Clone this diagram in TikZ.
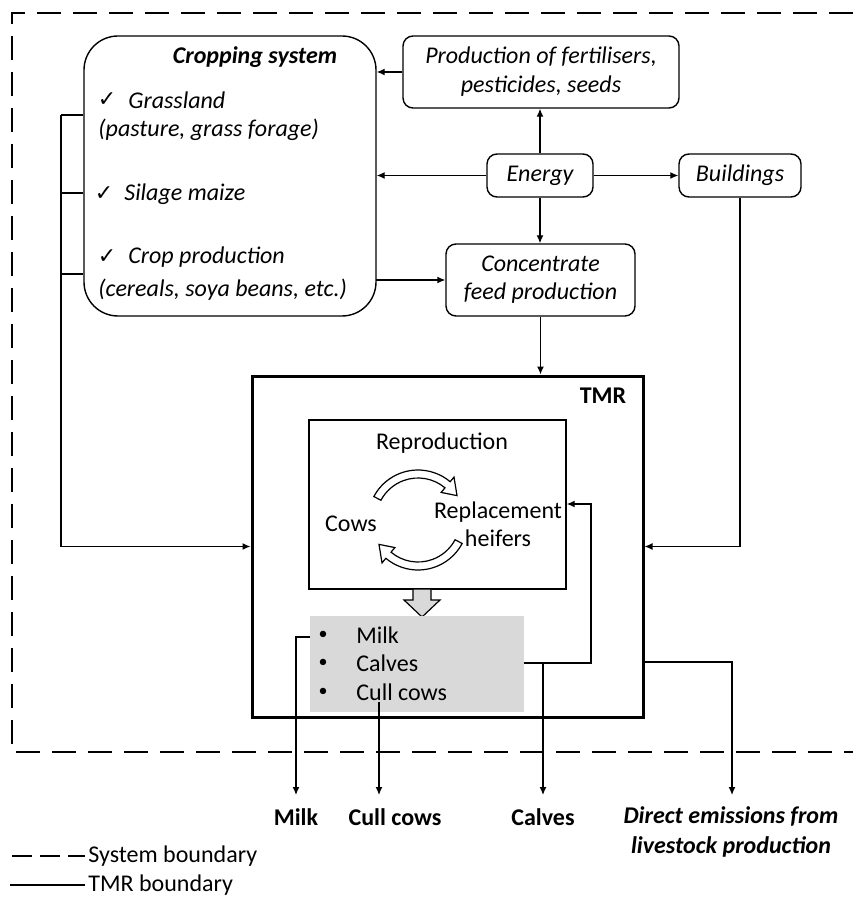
\documentclass[tikz,border=0pt]{standalone}
\usepackage{fontspec}
\setmainfont{Carlito}
\newfontfamily\symfont{DejaVu Sans}
\usetikzlibrary{arrows.meta,calc}
\definecolor{boxgray}{HTML}{D9D9D9}
\tikzset{
  px/.style={x=0.5pt,y=-0.5pt},
  conn/.style={line width=0.65pt,-{Latex[length=4pt,width=3.5pt]}},
  plain/.style={line width=0.65pt},
  rbox/.style={draw,line width=0.7pt,rounded corners=5pt,inner sep=0pt,align=center,
    font=\fontsize{12}{14.5}\selectfont\itshape},
  txt/.style={inner sep=0pt,font=\fontsize{12}{14}\selectfont\itshape},
  inner/.style={inner sep=0pt,font=\fontsize{12}{14}\selectfont},
  lbl/.style={inner sep=0pt,align=center,font=\fontsize{12}{15}\selectfont\bfseries},
  sysb/.style={line width=1.2pt,dash pattern=on 12pt off 6pt},
  tmrb/.style={line width=1.5pt},
  chk/.style={inner sep=0pt,font=\symfont\fontsize{11}{12}\selectfont},
  blt/.style={inner sep=0pt,font=\fontsize{9}{10}\selectfont},
}
\begin{document}
\begin{tikzpicture}[px]
\useasboundingbox (0,0) rectangle (853,897);

% system boundary, open to the right
\draw[sysb] (853,13) -- (12,13) -- (12,752) -- (853,752);

% cropping system
\node[draw,line width=0.7pt,rounded corners=17pt,minimum width=146pt,minimum height=140pt,inner sep=0pt] (crop) at (230,176) {};
\node[txt,font=\fontsize{12}{14}\selectfont\bfseries\itshape] (croptitle) at (255,57) {Cropping system};
\node[chk] (c1) at (107,100) {✓};
\node[txt,anchor=west] (grass) at (128,100) {Grassland};
\node[txt,anchor=west] (grass2) at (98,130) {(pasture, grass forage)};
\node[chk] (c2) at (104,194) {✓};
\node[txt,anchor=west] (maize) at (124,194) {Silage maize};
\node[chk] (c3) at (107,257) {✓};
\node[txt,anchor=west] (cropprod) at (128,257) {Crop production};
\node[txt,anchor=west] (cropprod2) at (98,290) {(cereals, soya beans, etc.)};

% upstream processes
\node[rbox,minimum width=138pt,minimum height=36pt] (prod) at (541,72) {Production of fertilisers,\\pesticides, seeds};
\node[rbox,minimum width=53pt,minimum height=21.5pt] (energy) at (540,175.5) {Energy};
\node[rbox,minimum width=61pt,minimum height=21.5pt] (bld) at (740,175.5) {Buildings};
\node[rbox,minimum width=94.5pt,minimum height=36pt,font=\fontsize{12}{14}\selectfont\itshape] (conc) at (540.5,280) {Concentrate\\feed production};

% TMR boundary and herd
\node[draw,tmrb,minimum width=195.5pt,minimum height=170.5pt,inner sep=0pt] (tmr) at (447.5,546.5) {};
\node[inner,font=\fontsize{12}{14}\selectfont\bfseries] (tmrlbl) at (603,396) {TMR};
\node[draw,line width=0.7pt,minimum width=128.5pt,minimum height=84.5pt,inner sep=0pt] (herd) at (437.5,504.5) {};
\node[inner] (repro) at (442,443) {Reproduction};
\node[inner] (cows) at (351,524) {Cows};
\node[inner,align=center] (heifers) at (498,524) {Replacement\\heifers};

% reproduction cycle (hollow curved arrows)
\coordinate (cc) at (418,520);
\draw[line width=0.6pt,fill=white]
  ($(cc)+(152:25pt)$) arc[start angle=152,end angle=50,radius=25pt]
  -- ($(cc)+(50:28pt)$) -- ($(cc)+(32:23pt)$) -- ($(cc)+(50:18pt)$)
  -- ($(cc)+(50:21pt)$) arc[start angle=50,end angle=152,radius=21pt] -- cycle;
\draw[line width=0.6pt,fill=white]
  ($(cc)+(-28:25pt)$) arc[start angle=-28,end angle=-130,radius=25pt]
  -- ($(cc)+(-130:28pt)$) -- ($(cc)+(-148:23pt)$) -- ($(cc)+(-130:18pt)$)
  -- ($(cc)+(-130:21pt)$) arc[start angle=-130,end angle=-28,radius=21pt] -- cycle;

% outputs block
\draw[line width=0.6pt,fill=boxgray] (413,589) -- (431,589) -- (431,600) -- (440,600)
  -- (422,617) -- (404,600) -- (413,600) -- cycle;
\node[fill=boxgray,minimum width=107pt,minimum height=48pt,inner sep=0pt] (outs) at (417,664) {};
\node[blt] (b1) at (323,635) {•};
\node[inner,anchor=west] (item1) at (356,635) {Milk};
\node[blt] (b2) at (323,663) {•};
\node[inner,anchor=west] (item2) at (356,663) {Calves};
\node[blt] (b3) at (323,692) {•};
\node[inner,anchor=west] (item3) at (356,692) {Cull cows};

% flows between processes
\draw[conn] (prod.west) -- (prod.west -| crop.east);
\draw[conn] (energy.west) -- (energy.west -| crop.east);
\draw[conn] (energy.north) -- (energy.north |- prod.south);
\draw[conn] (energy.east) -- (bld.west);
\draw[conn] (energy.south) -- (energy.south |- conc.north);
\coordinate (cf) at (376,280);
\draw[conn] (cf) -- (conc.west);
\draw[conn] (conc.south) -- (conc.south |- tmr.north);

% feed from the cropping system
\coordinate (k1) at (61,115);
\coordinate (k2) at (61,193);
\coordinate (k3) at (61,274);
\draw[plain] (k1) -- (k1 -| crop.west);
\draw[plain] (k2) -- (k2 -| crop.west);
\draw[plain] (k3) -- (k3 -| crop.west);
\draw[conn] (k1) |- (tmr.west);
\draw[conn] (bld.south) |- (tmr.east);

% products leaving the system
\coordinate (milkout) at (310,637);
\coordinate (milktip) at (296,795);
\coordinate (cullout) at (379,702);
\coordinate (culltip) at (379,795);
\coordinate (fb) at (591,504);
\coordinate (calfsplit) at (543,663);
\coordinate (calftip) at (543,795);
\coordinate (emout) at (643,662);
\coordinate (emtip) at (732,795);
\draw[conn] (milkout) -| (milktip);
\draw[conn] (cullout) -- (culltip);
\draw[conn] (outs.east |- item2) -| (fb) -- (fb -| herd.east);
\draw[conn] (calfsplit) -- (calftip);
\draw[conn] (emout) -| (emtip);

\node[lbl] (lmilk) at (296,817) {Milk};
\node[lbl] (lcull) at (395,817) {Cull cows};
\node[lbl] (lcalf) at (543,817) {Calves};
\node[lbl,font=\fontsize{12}{15}\selectfont\bfseries\itshape] (lemis) at (731,832) {Direct emissions from\\livestock production};

% legend
\coordinate (ls1) at (12,856);
\coordinate (ls2) at (85,856);
\coordinate (lt1) at (10,885);
\coordinate (lt2) at (85,885);
\draw[line width=1.1pt,dash pattern=on 10pt off 4pt] (ls1) -- (ls2);
\draw[line width=1.3pt] (lt1) -- (lt2);
\node[inner,anchor=west] (legsys) at (88,856) {System boundary};
\node[inner,anchor=west] (legtmr) at (88,885) {TMR boundary};
\end{tikzpicture}
\end{document}
